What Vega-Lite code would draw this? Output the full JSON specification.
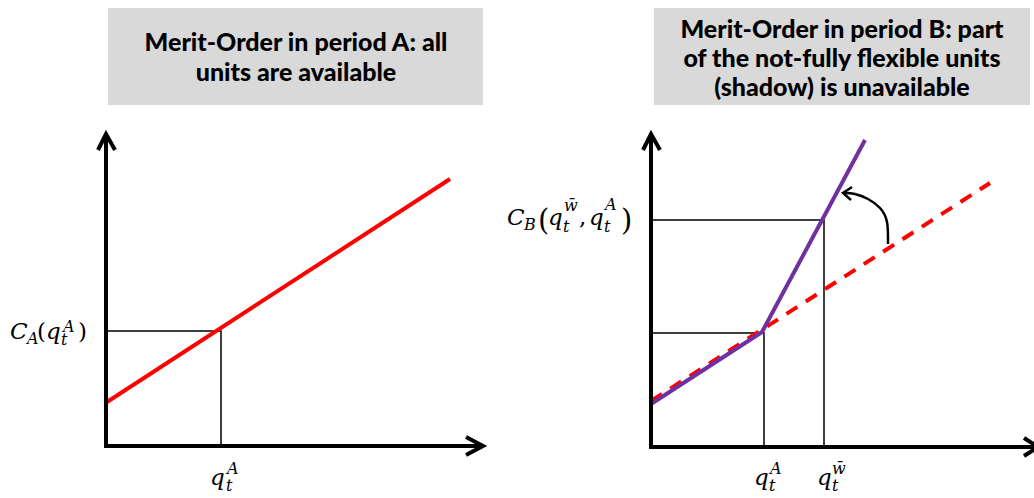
{
  "$schema": "https://vega.github.io/schema/vega-lite/v6.json",
  "width": 1034,
  "height": 498,
  "autosize": {"type": "fit", "contains": "padding"},
  "padding": 0,
  "background": "white",
  "config": {"view": {"stroke": null}},
  "datasets": {
    "boxes": [
      {"x": 108, "y": 8, "x2": 483, "y2": 105},
      {"x": 654, "y": 8, "x2": 1030, "y2": 105}
    ],
    "titles": [
      {"x": 296, "y": 43, "t": "Merit-Order in period A: all"},
      {"x": 296, "y": 73, "t": "units are available"},
      {"x": 842, "y": 30, "t": "Merit-Order in period B: part"},
      {"x": 842, "y": 59, "t": "of the not-fully flexible units"},
      {"x": 842, "y": 88, "t": "(shadow) is unavailable"}
    ],
    "axes": [
      {"id": "L", "i": 0, "x": 106, "y": 136},
      {"id": "L", "i": 1, "x": 106, "y": 446},
      {"id": "L", "i": 2, "x": 481, "y": 446},
      {"id": "LA1", "i": 0, "x": 98, "y": 150},
      {"id": "LA1", "i": 1, "x": 106, "y": 134},
      {"id": "LA1", "i": 2, "x": 115, "y": 150},
      {"id": "LA2", "i": 0, "x": 466, "y": 437},
      {"id": "LA2", "i": 1, "x": 483, "y": 446},
      {"id": "LA2", "i": 2, "x": 466, "y": 455},
      {"id": "R", "i": 0, "x": 651, "y": 136},
      {"id": "R", "i": 1, "x": 651, "y": 447},
      {"id": "R", "i": 2, "x": 1034, "y": 447},
      {"id": "RA1", "i": 0, "x": 643, "y": 150},
      {"id": "RA1", "i": 1, "x": 651, "y": 134},
      {"id": "RA1", "i": 2, "x": 660, "y": 150},
      {"id": "RA2", "i": 0, "x": 1024, "y": 438},
      {"id": "RA2", "i": 1, "x": 1038, "y": 447},
      {"id": "RA2", "i": 2, "x": 1024, "y": 456}
    ],
    "guides": [
      {"id": "g1", "i": 0, "x": 106, "y": 331},
      {"id": "g1", "i": 1, "x": 221, "y": 331},
      {"id": "g1", "i": 2, "x": 221, "y": 446},
      {"id": "g2", "i": 0, "x": 651, "y": 333},
      {"id": "g2", "i": 1, "x": 764, "y": 333},
      {"id": "g2", "i": 2, "x": 764, "y": 447},
      {"id": "g3", "i": 0, "x": 651, "y": 220},
      {"id": "g3", "i": 1, "x": 824, "y": 220},
      {"id": "g3", "i": 2, "x": 824, "y": 447}
    ],
    "redSolid": [
      {"i": 0, "x": 107, "y": 402},
      {"i": 1, "x": 450, "y": 179}
    ],
    "redDashed": [
      {"i": 0, "x": 651, "y": 401},
      {"i": 1, "x": 990, "y": 183}
    ],
    "purple": [
      {"i": 0, "x": 651, "y": 404},
      {"i": 1, "x": 762, "y": 332},
      {"i": 2, "x": 865, "y": 140}
    ],
    "curve": [
      {"i": 0, "x": 888, "y": 244},
      {"i": 1, "x": 887, "y": 222},
      {"i": 2, "x": 880, "y": 208},
      {"i": 3, "x": 868, "y": 199},
      {"i": 4, "x": 855, "y": 194},
      {"i": 5, "x": 845, "y": 193}
    ],
    "curveHead": [
      {"i": 0, "x": 852, "y": 187},
      {"i": 1, "x": 843, "y": 193},
      {"i": 2, "x": 851, "y": 200}
    ],
    "mainText": [
      {"x": 10, "y": 339, "t": "C"},
      {"x": 46, "y": 339, "t": "q"},
      {"x": 507, "y": 225, "t": "C"},
      {"x": 548, "y": 225, "t": "q"},
      {"x": 589, "y": 225, "t": "q"},
      {"x": 210, "y": 485, "t": "q"},
      {"x": 754, "y": 485, "t": "q"},
      {"x": 817, "y": 485, "t": "q"}
    ],
    "scriptText": [
      {"x": 27, "y": 344, "t": "A"},
      {"x": 61, "y": 345, "t": "t"},
      {"x": 63, "y": 332, "t": "A"},
      {"x": 524, "y": 230, "t": "B"},
      {"x": 563, "y": 232, "t": "t"},
      {"x": 564, "y": 211, "t": "w̄"},
      {"x": 604, "y": 232, "t": "t"},
      {"x": 605, "y": 210, "t": "A"},
      {"x": 226, "y": 491, "t": "t"},
      {"x": 227, "y": 474, "t": "A"},
      {"x": 769, "y": 491, "t": "t"},
      {"x": 770, "y": 474, "t": "A"},
      {"x": 832, "y": 491, "t": "t"},
      {"x": 832, "y": 474, "t": "w̄"}
    ],
    "parens": [
      {"x": 78, "y": 339, "t": ")"},
      {"x": 37, "y": 339, "t": "("},
      {"x": 579, "y": 225, "t": ","}
    ],
    "bigParens": [
      {"x": 538, "y": 230, "t": "("},
      {"x": 621, "y": 230, "t": ")"}
    ]
  },
  "encoding": {
    "x": {"field": "x", "type": "quantitative", "scale": {"domain": [0, 1034], "nice": false, "zero": false}, "axis": null},
    "y": {"field": "y", "type": "quantitative", "scale": {"domain": [0, 498], "nice": false, "zero": false, "reverse": true}, "axis": null}
  },
  "layer": [
    {
      "data": {"name": "boxes"},
      "mark": {"type": "rect", "color": "#d9d9d9"},
      "encoding": {"x2": {"field": "x2"}, "y2": {"field": "y2"}}
    },
    {
      "data": {"name": "titles"},
      "mark": {"type": "text", "font": "Lato", "fontWeight": 900, "fontSize": 25, "align": "center", "baseline": "middle", "color": "#000000"},
      "encoding": {"text": {"field": "t"}}
    },
    {
      "data": {"name": "guides"},
      "mark": {"type": "line", "color": "black", "strokeWidth": 1.5},
      "encoding": {"order": {"field": "i"}, "detail": {"field": "id"}}
    },
    {
      "data": {"name": "redSolid"},
      "mark": {"type": "line", "color": "#ff0000", "strokeWidth": 4},
      "encoding": {"order": {"field": "i"}}
    },
    {
      "data": {"name": "redDashed"},
      "mark": {"type": "line", "color": "#ff0000", "strokeWidth": 4, "strokeDash": [13, 10]},
      "encoding": {"order": {"field": "i"}}
    },
    {
      "data": {"name": "purple"},
      "mark": {"type": "line", "color": "#7030a0", "strokeWidth": 4},
      "encoding": {"order": {"field": "i"}}
    },
    {
      "data": {"name": "curve"},
      "mark": {"type": "line", "color": "black", "strokeWidth": 2.5, "interpolate": "natural"},
      "encoding": {"order": {"field": "i"}}
    },
    {
      "data": {"name": "curveHead"},
      "mark": {"type": "line", "color": "black", "strokeWidth": 2.5, "strokeJoin": "miter"},
      "encoding": {"order": {"field": "i"}}
    },
    {
      "data": {"name": "axes"},
      "mark": {"type": "line", "color": "black", "strokeWidth": 4, "strokeJoin": "miter", "strokeCap": "butt", "clip": true},
      "encoding": {"order": {"field": "i"}, "detail": {"field": "id"}}
    },
    {
      "data": {"name": "mainText"},
      "mark": {"type": "text", "font": "DejaVu Serif", "fontStyle": "italic", "fontSize": 23, "align": "left", "baseline": "alphabetic", "color": "black"},
      "encoding": {"text": {"field": "t"}}
    },
    {
      "data": {"name": "scriptText"},
      "mark": {"type": "text", "font": "DejaVu Serif", "fontStyle": "italic", "fontSize": 16, "align": "left", "baseline": "alphabetic", "color": "black"},
      "encoding": {"text": {"field": "t"}}
    },
    {
      "data": {"name": "parens"},
      "mark": {"type": "text", "font": "DejaVu Serif", "fontSize": 23, "align": "left", "baseline": "alphabetic", "color": "black"},
      "encoding": {"text": {"field": "t"}}
    },
    {
      "data": {"name": "bigParens"},
      "mark": {"type": "text", "font": "DejaVu Serif", "fontSize": 29, "align": "left", "baseline": "alphabetic", "color": "black"},
      "encoding": {"text": {"field": "t"}}
    }
  ]
}
